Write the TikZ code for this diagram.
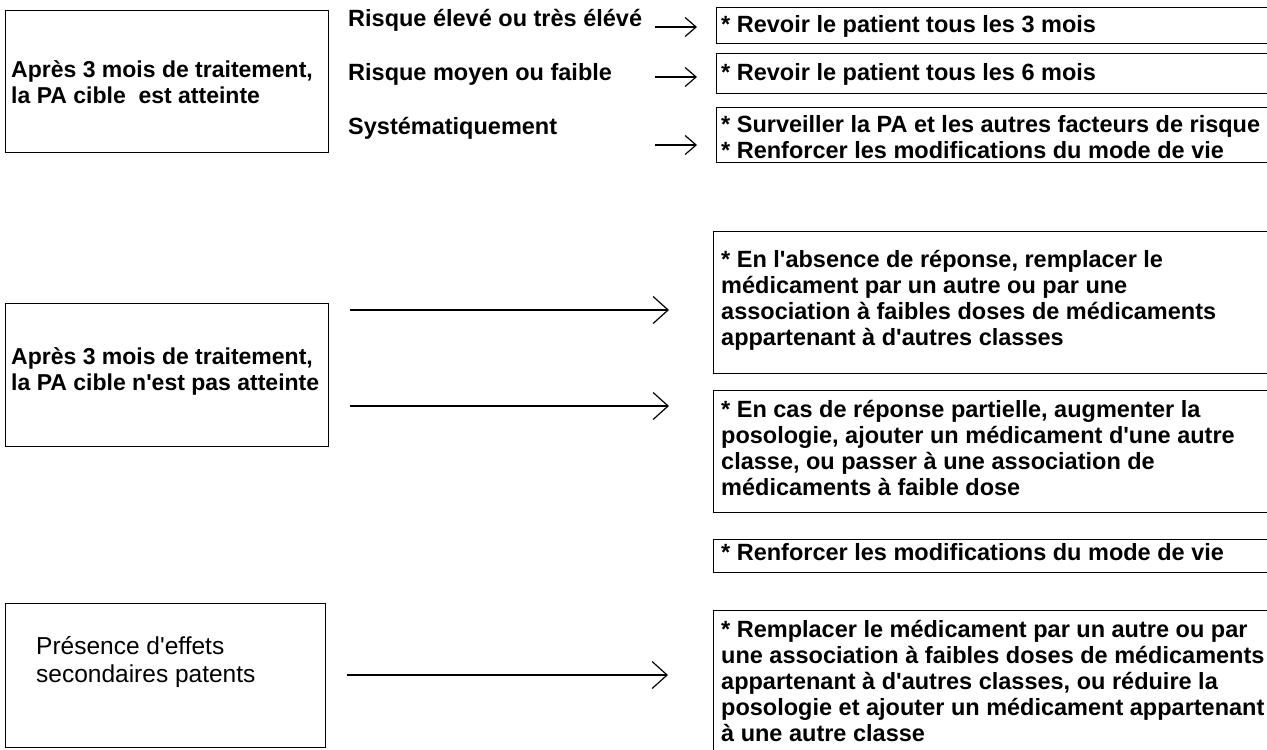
\documentclass[tikz,border=0pt]{standalone}
\usepackage{fontspec}
\setmainfont{Liberation Sans}[Ligatures=TeXOff]
\usetikzlibrary{arrows.meta}
\begin{document}
\begin{tikzpicture}[x=1pt,y=-1pt,
  box/.style={draw, line width=1.3pt, inner sep=0pt, anchor=north west},
  txt/.style={inner sep=0pt, anchor=north west, align=left, font=\fontsize{23.5}{26}\selectfont\bfseries},
  txta/.style={inner sep=0pt, anchor=north west, align=left, font=\fontsize{23}{26}\selectfont\bfseries},
  txtr/.style={inner sep=0pt, anchor=north west, align=left, font=\fontsize{24.5}{28}\selectfont},
  arr/.style={line width=1.2pt, -{Straight Barb[length=11pt,width=19pt,line width=1.2pt]}},
  arrl/.style={line width=1.2pt, -{Straight Barb[length=15pt,width=27pt,line width=1.2pt]}}]
\useasboundingbox (0,0) rectangle (1267,750);
\fill[white] (0,0) rectangle (1267,750);
\clip (0,0) rectangle (1267,750);

% ---------- top group ----------
\node[box, minimum width=323pt, minimum height=142pt] (A1) at (5,10) {};
\node[txta] (A1t) at (11,58.8) {\strut Après 3 mois de traitement,\\la PA cible\ \ est atteinte};

\node[txt] (L1) at (348,7.8) {\strut Risque élevé ou très élévé};
\node[txt] (L2) at (348,61.8) {\strut Risque moyen ou faible};
\node[txt] (L3) at (348,115.8) {\strut Systématiquement};

\node[box, minimum width=600pt, minimum height=36pt] (B1) at (716,7) {};
\node[txt] (B1t) at (721,13.8) {\strut * Revoir le patient tous les 3 mois};
\node[box, minimum width=600pt, minimum height=40pt] (B2) at (716,53) {};
\node[txt] (B2t) at (721,61.8) {\strut * Revoir le patient tous les 6 mois};
\node[box, minimum width=600pt, minimum height=55pt] (B3) at (716,107) {};
\node[txt] (B3t) at (721,113.8) {\strut * Surveiller la PA et les autres facteurs de risque\\* Renforcer les modifications du mode de vie};

\coordinate (a1s) at (655,27);  \coordinate (a1e) at (697,27);
\coordinate (a2s) at (655,77);  \coordinate (a2e) at (697,77);
\coordinate (a3s) at (655,145); \coordinate (a3e) at (697,145);
\draw[arr] (a1s) -- (a1e);
\draw[arr] (a2s) -- (a2e);
\draw[arr] (a3s) -- (a3e);

% ---------- middle group ----------
\node[box, minimum width=323pt, minimum height=143pt] (A2) at (5,303) {};
\node[txta] (A2t) at (11,345.8) {\strut Après 3 mois de traitement,\\la PA cible n'est pas atteinte};

\node[box, minimum width=600pt, minimum height=142pt] (C1) at (713,231) {};
\node[txt] (C1t) at (721,248.8) {\strut * En l'absence de réponse, remplacer le\\médicament par un autre ou par une\\association à faibles doses de médicaments\\appartenant à d'autres classes};
\node[box, minimum width=600pt, minimum height=122pt] (C2) at (713,390) {};
\node[txt] (C2t) at (721,398.8) {\strut * En cas de réponse partielle, augmenter la\\posologie, ajouter un médicament d'une autre\\classe, ou passer à une association de\\médicaments à faible dose};
\node[box, minimum width=600pt, minimum height=33pt] (C3) at (713,539) {};
\node[txt] (C3t) at (721,541.8) {\strut * Renforcer les modifications du mode de vie};

\coordinate (b1s) at (350,310); \coordinate (b1e) at (669,310);
\coordinate (b2s) at (350,406); \coordinate (b2e) at (669,406);
\draw[arrl] (b1s) -- (b1e);
\draw[arrl] (b2s) -- (b2e);

% ---------- bottom group ----------
\node[box, minimum width=320pt, minimum height=144pt] (A3) at (5,603) {};
\node[txtr] (A3t) at (36,635) {\strut Présence d'effets\\secondaires patents};

\node[box, minimum width=600pt, minimum height=200pt] (C4) at (713,610) {};
\node[txt] (C4t) at (721,618.8) {\strut * Remplacer le médicament par un autre ou par\\une association à faibles doses de médicaments\\appartenant à d'autres classes, ou réduire la\\posologie et ajouter un médicament appartenant\\à une autre classe};

\coordinate (c1s) at (347,675); \coordinate (c1e) at (668,675);
\draw[arrl] (c1s) -- (c1e);
\end{tikzpicture}
\end{document}
